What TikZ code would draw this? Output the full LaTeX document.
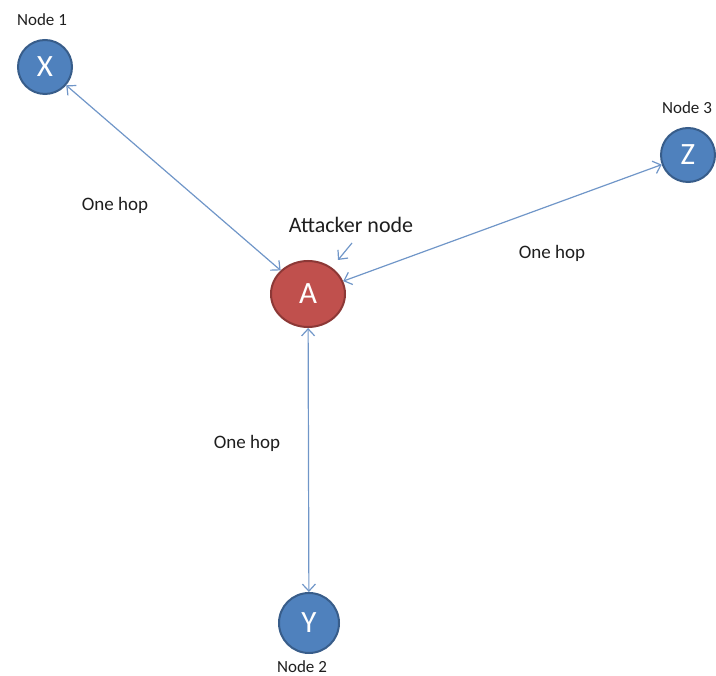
\documentclass[tikz,border=0pt]{standalone}
\usepackage{fontspec}
\setmainfont{Carlito}
\usetikzlibrary{arrows.meta,shapes.geometric}
\definecolor{nodeblue}{HTML}{4F81BD}
\definecolor{nodeblueedge}{HTML}{385D8A}
\definecolor{nodered}{HTML}{C0504D}
\definecolor{noderededge}{HTML}{8C3836}
\definecolor{linkblue}{HTML}{7096C8}
\definecolor{labelgray}{HTML}{1E1E1E}
\tikzset{
  peer/.style={circle, draw=nodeblueedge, fill=nodeblue, line width=2pt,
    minimum size=54pt, inner sep=0pt, text=white, font=\fontsize{31}{31}\selectfont},
  attacker/.style={ellipse, draw=noderededge, fill=nodered, line width=2pt,
    minimum width=74pt, minimum height=66pt, inner sep=0pt, text=white,
    font=\fontsize{31}{31}\selectfont},
  caption/.style={text=labelgray, inner sep=0pt, font=\fontsize{17}{17}\selectfont},
  hoplabel/.style={text=labelgray, inner sep=0pt, font=\fontsize{19}{19}\selectfont},
  link/.style={draw=linkblue, line width=1.2pt,
    {Straight Barb[length=7pt,width=13pt,line width=1.2pt]}-{Straight Barb[length=7pt,width=13pt,line width=1.2pt]}},
  pointer/.style={draw=linkblue, line width=1.2pt,
    -{Straight Barb[length=7pt,width=13pt,line width=1.2pt]}}
}
\begin{document}
\begin{tikzpicture}[x=1pt, y=-1pt]
  \useasboundingbox (0,0) rectangle (716,676);

  % nodes
  \node[peer] (X) at (45,67) {X};
  \node[peer] (Z) at (688,155) {Z};
  \node[peer, minimum size=60pt] (Y) at (309,623) {Y};
  \node[attacker] (A) at (308,294) {A};

  % node captions
  \node[caption] (n1) at (42,20) {Node 1};
  \node[caption] (n3) at (687,108) {Node 3};
  \node[caption] (n2) at (302,667) {Node 2};
  \node[text=labelgray, inner sep=0pt, font=\fontsize{22}{22}\selectfont] (att) at (351,225) {Attacker node};

  % hop labels
  \node[hoplabel] (h1) at (115,205) {One hop};
  \node[hoplabel] (h3) at (552,253) {One hop};
  \node[hoplabel] (h2) at (247,443) {One hop};

  % one-hop links
  \draw[link] (X) -- (A);
  \draw[link] (Z) -- (A);
  \draw[link] (A) -- (Y);

  % pointer from the caption to the attacker
  \coordinate (ps) at (352,243);
  \coordinate (pe) at (338,260);
  \draw[pointer] (ps) -- (pe);
\end{tikzpicture}
\end{document}
